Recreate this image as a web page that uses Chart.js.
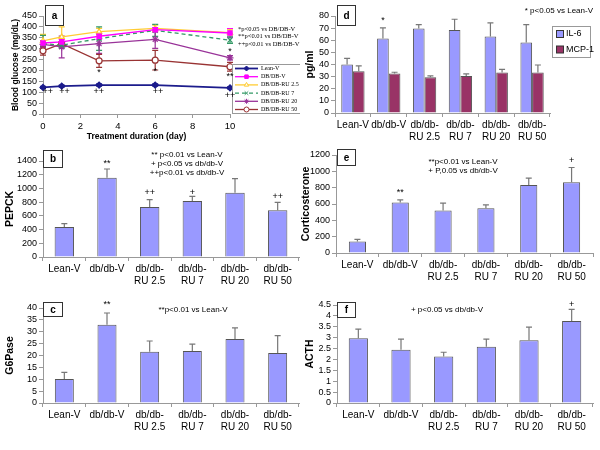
<!DOCTYPE html>
<html>
<head>
<meta charset="utf-8">
<script src="https://cdn.jsdelivr.net/npm/chart.js@4.4.1/dist/chart.umd.min.js"></script>
<style>
body { margin: 0; background: #fff; }
#wrap { position: relative; width: 600px; height: 450px; overflow: hidden; background: #fff; }
canvas { position: absolute; }
</style>
</head>
<body>
<div id="wrap">
  <canvas id="chartA" width="300" height="145" style="left:0;top:0"></canvas>
  <canvas id="chartD" width="300" height="145" style="left:300px;top:0"></canvas>
  <canvas id="chartB" width="300" height="150" style="left:0;top:145px"></canvas>
  <canvas id="chartE" width="300" height="150" style="left:300px;top:145px"></canvas>
  <canvas id="chartC" width="300" height="160" style="left:0;top:290px"></canvas>
  <canvas id="chartF" width="300" height="160" style="left:300px;top:290px"></canvas>
</div>
<script>
// ---------- data

const groups = ['Lean-V', 'db/db-V', ['db/db-', 'RU 2.5'], ['db/db-', 'RU 7'], ['db/db-', 'RU 20'], ['db/db-', 'RU 50']];

// panel a, blood glucose over time
const days = [0, 1, 3, 6, 10];
const glucoseNames = ['Lean-V', 'DB/DB-V', 'DB/DB-RU 2.5', 'DB/DB-RU 7', 'DB/DB-RU 20', 'DB/DB-RU 50'];
const leanV = [122, 128, 133, 133, 120];
const leanVErr = [5, 5, 5, 5, 5];
const dbV = [326, 331, 357, 387, 372];
const dbVErr = [10, 12, 15, 10, 20];
const ru25 = [336, 354, 378, 393, 374];
const ru25Err = [30, 46, 15, 15, 12];
const ru7 = [323, 316, 346, 384, 339];
const ru7Err = [38, 15, 54, 28, 15];
const ru20 = [320, 308, 323, 343, 258];
const ru20Err = [15, 50, 45, 42, 10];
const ru50 = [290, 323, 244, 247, 217];
const ru50Err = [20, 10, 30, 45, 20];
const markDays = [0.26, 1.15, 2.98, 6.15, 10, 10, 10, 3, 6];
const markLevels = [105, 105, 105, 105, 83, 170, 288, 190, 194];
const markTexts = ['++', '++', '++', '++', '++', '**', '*', '*', '*'];
const glucoseNotes = ['*p<0.05 vs DB/DB-V', '**p<0.01 vs DB/DB-V', '++p<0.01 vs DB/DB-V'];

// panel b
const pepck = [437, 1157, 729, 817, 938, 680];
const pepckErr = [49, 126, 107, 68, 204, 117];
const pepckStars = ['', '**', '++', '+', '', '++'];
const pepckStarY = [0, 1360, 940, 940, 0, 875];
const pepckNotes = ['** p<0.01 vs Lean-V', '+ p<0.05 vs db/db-V', '++p<0.01 vs db/db-V'];

// panel c
const g6p = [10.1, 33, 21.6, 21.9, 26.9, 21.1];
const g6pErr = [2.8, 4.9, 4.5, 2.9, 4.7, 7.3];
const g6pStars = ['', '**', '', '', '', ''];
const g6pStarY = [0, 41.4, 0, 0, 0, 0];
const g6pNotes = ['**p<0.01 vs Lean-V'];

// panel d
const il6 = [40.1, 61.4, 69.6, 68.5, 63.1, 58.2];
const il6Err = [4.9, 8.8, 3.3, 8.8, 11.2, 14.7];
const mcp1 = [34.4, 32.5, 29.5, 30.6, 33.3, 33.3];
const mcp1Err = [4.4, 1.1, 1.1, 1.6, 2.7, 6.3];
const il6Stars = ['', '*', '', '', '', ''];
const il6StarY = [0, 76, 0, 0, 0, 0];
const cytoNotes = ['* p<0.05 vs Lean-V'];

// panel e
const cort = [142, 618, 521, 549, 834, 867];
const cortErr = [25, 33, 90, 40, 82, 180];
const cortStars = ['', '**', '', '', '', '+'];
const cortStarY = [0, 740, 0, 0, 0, 1130];
const cortNotes = ['**p<0.01 vs Lean-V', '+ P,0.05 vs db/db-V'];

// panel f
const acth = [2.97, 2.44, 2.14, 2.58, 2.88, 3.77];
const acthErr = [0.42, 0.49, 0.19, 0.35, 0.6, 0.53];
const acthStars = ['', '', '', '', '', '+'];
const acthStarY = [0, 0, 0, 0, 0, 4.5];
const acthNotes = ['+ p<0.05 vs db/db-V'];

// ---------- defaults

Chart.defaults.font.family = "'Liberation Sans', Arial, sans-serif";
Chart.defaults.color = '#000';
Chart.defaults.animation = false;
Chart.defaults.plugins.legend.display = false;
Chart.defaults.plugins.tooltip.enabled = false;

const AXIS = '#999';
const BAR = '#9999FF';

// ---------- drawing helpers

function drawErrors(chart, both) {
  const ctx = chart.ctx;
  const yScale = chart.scales.y;
  chart.data.datasets.forEach(function(ds, di) {
    if (!ds.errs) return;
    const meta = chart.getDatasetMeta(di);
    ctx.save();
    ctx.strokeStyle = ds.errColor || '#777';
    ctx.lineWidth = 1.2;
    meta.data.forEach(function(el, i) {
      const v = both ? ds.data[i].y : ds.data[i];
      const top = yScale.getPixelForValue(v + ds.errs[i]);
      const bot = both ? yScale.getPixelForValue(v - ds.errs[i]) : el.y;
      ctx.beginPath();
      ctx.moveTo(el.x, bot);
      ctx.lineTo(el.x, top);
      ctx.moveTo(el.x - 3, top);
      ctx.lineTo(el.x + 3, top);
      if (both) {
        ctx.moveTo(el.x - 3, bot);
        ctx.lineTo(el.x + 3, bot);
      }
      ctx.stroke();
    });
    ctx.restore();
  });
}

function drawPanelBox(ctx, letter, b) {
  ctx.save();
  ctx.fillStyle = '#fff';
  ctx.fillRect(b[0], b[1], b[2], b[3]);
  ctx.strokeStyle = '#333';
  ctx.lineWidth = 1;
  ctx.strokeRect(b[0] + 0.5, b[1] + 0.5, b[2], b[3]);
  ctx.fillStyle = '#000';
  ctx.font = "bold 10px 'Liberation Sans'";
  ctx.textAlign = 'center';
  ctx.textBaseline = 'middle';
  ctx.fillText(letter, b[0] + b[2] / 2 + 0.5, b[1] + b[3] / 2 + 1);
  ctx.restore();
}

function drawNotes(ctx, lines, x, y, gap, font, align) {
  ctx.save();
  ctx.fillStyle = '#000';
  ctx.font = font;
  ctx.textAlign = align;
  ctx.textBaseline = 'middle';
  lines.forEach(function(t, i) {
    ctx.fillText(t, x, y + i * gap);
  });
  ctx.restore();
}

function drawStars(chart, stars, levels) {
  const ctx = chart.ctx;
  const meta = chart.getDatasetMeta(0);
  ctx.save();
  ctx.fillStyle = '#000';
  ctx.font = "9px 'Liberation Sans'";
  ctx.textAlign = 'center';
  ctx.textBaseline = 'middle';
  stars.forEach(function(t, i) {
    if (!t) return;
    ctx.fillText(t, meta.data[i].x, chart.scales.y.getPixelForValue(levels[i]));
  });
  ctx.restore();
}

// ---------- panel a

function glucoseSet(i, vals, errs, color, style, fill, dash) {
  return {
    label: glucoseNames[i],
    data: days.map(function(d, k) { return { x: d, y: vals[k] }; }),
    errs: errs,
    errColor: color,
    borderColor: color,
    backgroundColor: fill,
    borderWidth: i === 0 ? 1.8 : 1.3,
    borderDash: dash || [],
    pointStyle: style,
    pointRadius: style === 'crossRot' || style === 'star' ? 3.5 : 3,
    pointBorderColor: color,
    pointBackgroundColor: fill,
    pointBorderWidth: 1.2,
    tension: 0,
    clip: false
  };
}

const glucoseLegend = {
  id: 'glucoseLegend',
  beforeDatasetsDraw: function(chart) { drawErrors(chart, true); },
  afterDraw: function(chart) {
    const ctx = chart.ctx;
    ctx.save();
    ctx.fillStyle = '#fff';
    ctx.fillRect(232, 64, 68, 50);
    ctx.strokeStyle = AXIS;
    ctx.lineWidth = 1;
    ctx.strokeRect(232.5, 64.5, 70, 49);
    chart.data.datasets.forEach(function(ds, i) {
      const y = 68.5 + i * 8.2;
      ctx.strokeStyle = ds.borderColor;
      ctx.lineWidth = ds.borderWidth;
      ctx.setLineDash(ds.borderDash);
      ctx.beginPath();
      ctx.moveTo(235, y);
      ctx.lineTo(258, y);
      ctx.stroke();
      ctx.setLineDash([]);
      ctx.fillStyle = ds.pointBackgroundColor;
      ctx.strokeStyle = ds.pointBorderColor;
      ctx.lineWidth = 1;
      Chart.helpers.drawPoint(ctx, { pointStyle: ds.pointStyle, radius: 2.5, borderWidth: 1, rotation: 0 }, 246.5, y);
      ctx.fillStyle = '#000';
      ctx.font = "6px 'Liberation Serif'";
      ctx.textAlign = 'left';
      ctx.textBaseline = 'middle';
      ctx.fillText(ds.label, 261, y);
    });
    ctx.restore();

    ctx.save();
    ctx.fillStyle = '#000';
    ctx.font = "9px 'Liberation Sans'";
    ctx.textAlign = 'center';
    ctx.textBaseline = 'middle';
    markTexts.forEach(function(t, i) {
      ctx.fillText(t, chart.scales.x.getPixelForValue(markDays[i]), chart.scales.y.getPixelForValue(markLevels[i]));
    });
    ctx.restore();

    drawNotes(ctx, glucoseNotes, 238, 29, 7.5, "6.5px 'Liberation Serif'", 'left');
    drawPanelBox(ctx, 'a', [45, 5, 18, 20]);
  }
};

new Chart(document.getElementById('chartA'), {
  type: 'line',
  data: {
    datasets: [
      glucoseSet(0, leanV, leanVErr, '#1c1c8c', 'rectRot', '#1c1c8c'),
      glucoseSet(1, dbV, dbVErr, '#FF00FF', 'rect', '#FF00FF'),
      glucoseSet(2, ru25, ru25Err, '#FFCC33', 'triangle', '#fff'),
      glucoseSet(3, ru7, ru7Err, '#339966', 'crossRot', '#339966', [4, 3]),
      glucoseSet(4, ru20, ru20Err, '#993399', 'star', '#993399'),
      glucoseSet(5, ru50, ru50Err, '#993333', 'circle', '#fff')
    ]
  },
  options: {
    responsive: false,
    layout: { padding: { left: 0, top: 16, right: 70, bottom: 0 } },
    scales: {
      x: {
        type: 'linear', min: 0, max: 10,
        ticks: { stepSize: 2, font: { size: 9.5 }, padding: 3 },
        grid: { drawOnChartArea: false, tickLength: 4, color: AXIS },
        border: { color: AXIS },
        title: { display: true, text: 'Treatment duration (day)', font: { size: 8.5, weight: 'bold' }, padding: { top: 0, bottom: 3 } },
        afterFit: function(s) { s.height = 31; }
      },
      y: {
        min: 0, max: 450,
        ticks: { stepSize: 50, font: { size: 9 }, padding: 2, autoSkip: false },
        grid: { drawOnChartArea: false, tickLength: 4, color: AXIS },
        border: { color: AXIS },
        title: { display: true, text: 'Blood glucose (mg/dL)', font: { size: 8.5, weight: 'bold' }, padding: { top: 11, bottom: 0 } },
        afterFit: function(s) { s.width = 43; }
      }
    }
  },
  plugins: [glucoseLegend]
});

// ---------- bar panels

function makeBar(id, sets, o) {
  sets.forEach(function(ds) {
    ds.borderColor = '#555';
    ds.borderWidth = 1;
    ds.categoryPercentage = o.cat;
    ds.barPercentage = o.bar;
  });
  const extras = {
    id: 'extras' + id,
    afterDatasetsDraw: function(chart) { drawErrors(chart, false); },
    afterDraw: function(chart) {
      const ctx = chart.ctx;
      drawStars(chart, o.stars, o.starY);
      drawNotes(ctx, o.notes, o.noteX, o.noteY, 8.7, "8px 'Liberation Sans'", o.noteAlign || 'center');
      drawPanelBox(ctx, o.letter, o.box);
      if (o.legend) {
        ctx.save();
        ctx.strokeStyle = AXIS;
        ctx.lineWidth = 1;
        ctx.strokeRect(o.legend[0] + 0.5, o.legend[1] + 0.5, o.legend[2], o.legend[3]);
        chart.data.datasets.forEach(function(ds, i) {
          const y = o.legend[1] + 8 + i * 15.5;
          ctx.fillStyle = ds.backgroundColor;
          ctx.fillRect(o.legend[0] + 4, y - 3.5, 7, 7);
          ctx.strokeStyle = '#333';
          ctx.strokeRect(o.legend[0] + 4.5, y - 3.5, 7, 7);
          ctx.fillStyle = '#000';
          ctx.font = "9px 'Liberation Sans'";
          ctx.textAlign = 'left';
          ctx.textBaseline = 'middle';
          ctx.fillText(ds.label, o.legend[0] + 14, y);
        });
        ctx.restore();
      }
    }
  };
  return new Chart(document.getElementById(id), {
    type: 'bar',
    data: { labels: groups, datasets: sets },
    options: {
      responsive: false,
      layout: { padding: o.pad },
      scales: {
        x: {
          grid: { offset: true, drawOnChartArea: false, tickLength: 4, color: AXIS },
          border: { color: AXIS },
          ticks: { font: { size: 10 }, maxRotation: 0, autoSkip: false, padding: 2 },
          afterFit: function(s) { s.height = o.xh; }
        },
        y: {
          min: 0, max: o.max,
          ticks: { stepSize: o.step, font: { size: 9 }, padding: 2, autoSkip: false, callback: function(v) { return Math.round(v * 10) / 10; } },
          grid: { drawOnChartArea: false, tickLength: 4, color: AXIS },
          border: { color: AXIS },
          title: { display: true, text: o.title, font: { size: 10.5, weight: 'bold' }, padding: { top: o.tpad, bottom: 0 } },
          afterFit: function(s) { s.width = o.yw; }
        }
      }
    },
    plugins: [extras]
  });
}

makeBar('chartB', [{ label: 'PEPCK', data: pepck, errs: pepckErr, backgroundColor: BAR }], {
  cat: 1, bar: 0.455, max: 1400, step: 200, title: 'PEPCK', tpad: 4, yw: 43, xh: 38,
  pad: { left: 0, top: 16, right: 1, bottom: 0 },
  stars: pepckStars, starY: pepckStarY,
  notes: pepckNotes, noteX: 187, noteY: 10,
  letter: 'b', box: [43, 5, 19, 17]
});

makeBar('chartC', [{ label: 'G6Pase', data: g6p, errs: g6pErr, backgroundColor: BAR }], {
  cat: 1, bar: 0.445, max: 40, step: 5, title: 'G6Pase', tpad: 4, yw: 43, xh: 47,
  pad: { left: 0, top: 18, right: 1, bottom: 0 },
  stars: g6pStars, starY: g6pStarY,
  notes: g6pNotes, noteX: 193, noteY: 20,
  letter: 'c', box: [43, 12, 19, 14]
});

makeBar('chartD', [
  { label: 'IL-6', data: il6, errs: il6Err, backgroundColor: BAR },
  { label: 'MCP-1', data: mcp1, errs: mcp1Err, backgroundColor: '#993366' }
], {
  cat: 0.65, bar: 1, max: 80, step: 10, title: 'pg/ml', tpad: 4, yw: 35, xh: 32,
  pad: { left: 0, top: 16, right: 50, bottom: 0 },
  stars: il6Stars, starY: il6StarY,
  notes: cytoNotes, noteX: 293, noteY: 11, noteAlign: 'right',
  letter: 'd', box: [37, 5, 18, 20],
  legend: [252, 26, 38, 31]
});

makeBar('chartE', [{ label: 'Corticosterone', data: cort, errs: cortErr, backgroundColor: BAR }], {
  cat: 1, bar: 0.4, max: 1200, step: 200, title: 'Corticosterone', tpad: 0, yw: 36, xh: 42,
  pad: { left: 0, top: 10, right: 7, bottom: 0 },
  stars: cortStars, starY: cortStarY,
  notes: cortNotes, noteX: 163, noteY: 17, noteAlign: 'center',
  letter: 'e', box: [37, 4, 18, 16]
});

makeBar('chartF', [{ label: 'ACTH', data: acth, errs: acthErr, backgroundColor: BAR }], {
  cat: 1, bar: 0.45, max: 4.5, step: 0.5, title: 'ACTH', tpad: 4, yw: 37, xh: 47,
  pad: { left: 0, top: 15, right: 7, bottom: 0 },
  stars: acthStars, starY: acthStarY,
  notes: acthNotes, noteX: 147, noteY: 20,
  letter: 'f', box: [37, 12, 18, 15]
});
</script>
</body>
</html>
